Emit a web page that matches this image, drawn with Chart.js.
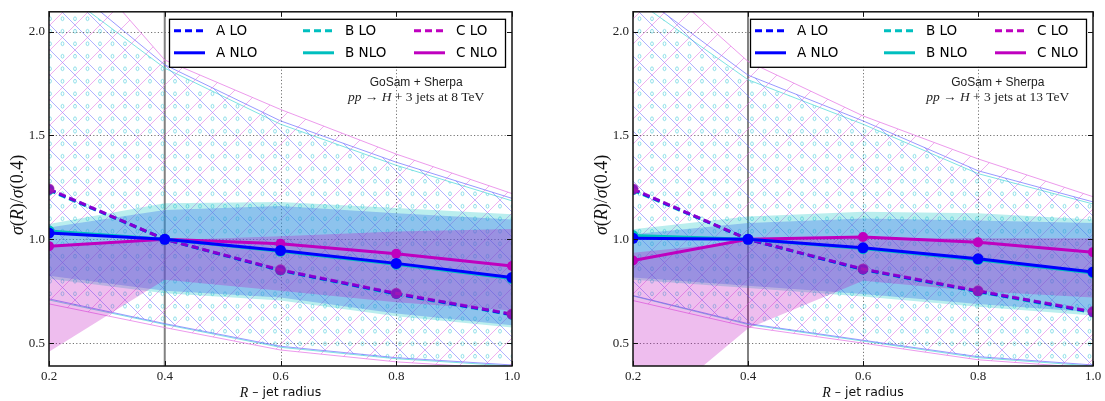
<!DOCTYPE html>
<html>
<head>
<meta charset="utf-8">
<script src="https://cdn.jsdelivr.net/npm/chart.js@4.4.0/dist/chart.umd.min.js"></script>
<style>
  html, body { margin: 0; padding: 0; background: #fff; }
  #wrap { position: relative; width: 1105px; height: 401px; overflow: hidden; }
  canvas { position: absolute; top: 0; }
  #c8 { left: 0; }
  #c13 { left: 552px; }
</style>
</head>
<body>
<div id="wrap">
  <canvas id="c8" width="552" height="401"></canvas>
  <canvas id="c13" width="553" height="401"></canvas>
</div>
<script>
// jet radius values and axis ticks
var radius = [0.2, 0.4, 0.6, 0.8, 1.0];
var xTicks = [0.2, 0.4, 0.6, 0.8, 1.0];
var yTicks = [0.5, 1.0, 1.5, 2.0];
var refRadius = 0.4;
var series = ['A', 'B', 'C'];
var orders = ['LO', 'NLO'];

// 8 TeV central values, sigma(R)/sigma(0.4)
var lo8A = [1.240, 1.0, 0.851, 0.738, 0.638];
var lo8B = [1.236, 1.0, 0.849, 0.735, 0.636];
var lo8C = [1.242, 1.0, 0.853, 0.740, 0.640];
var nlo8A = [1.030, 1.0, 0.946, 0.884, 0.816];
var nlo8B = [1.040, 1.0, 0.942, 0.880, 0.811];
var nlo8C = [0.967, 1.0, 0.978, 0.930, 0.871];
// 8 TeV scale bands
var loUp8A = [2.30, 1.840, 1.570, 1.371, 1.197];
var loDn8A = [0.713, 0.594, 0.485, 0.430, 0.395];
var loUp8B = [2.24, 1.824, 1.554, 1.356, 1.185];
var loDn8B = [0.708, 0.590, 0.480, 0.425, 0.390];
var loUp8C = [2.50, 1.863, 1.625, 1.410, 1.220];
var loDn8C = [0.689, 0.575, 0.467, 0.410, 0.375];
var nloUp8A = [1.057, 1.141, 1.160, 1.125, 1.095];
var nloDn8A = [0.824, 0.752, 0.720, 0.643, 0.586];
var nloUp8B = [1.073, 1.173, 1.180, 1.150, 1.120];
var nloDn8B = [0.810, 0.740, 0.705, 0.630, 0.575];
var nloUp8C = [0.967, 0.995, 1.014, 1.037, 1.050];
var nloDn8C = [0.459, 0.805, 0.752, 0.697, 0.657];

// 13 TeV central values
var lo13A = [1.240, 1.0, 0.855, 0.750, 0.650];
var lo13B = [1.236, 1.0, 0.853, 0.747, 0.647];
var lo13C = [1.242, 1.0, 0.857, 0.752, 0.652];
var nlo13A = [1.005, 1.0, 0.959, 0.906, 0.843];
var nlo13B = [1.018, 1.0, 0.955, 0.902, 0.838];
var nlo13C = [0.898, 1.0, 1.011, 0.986, 0.938];
// 13 TeV scale bands
var loUp13A = [2.20, 1.790, 1.570, 1.330, 1.180];
var loDn13A = [0.729, 0.594, 0.514, 0.435, 0.395];
var loUp13B = [2.16, 1.768, 1.554, 1.316, 1.170];
var loDn13B = [0.727, 0.590, 0.510, 0.430, 0.390];
var loUp13C = [2.35, 1.856, 1.594, 1.387, 1.205];
var loDn13C = [0.705, 0.578, 0.500, 0.420, 0.380];
var nloUp13A = [1.024, 1.078, 1.100, 1.090, 1.078];
var nloDn13A = [0.816, 0.776, 0.737, 0.689, 0.649];
var nloUp13B = [1.048, 1.110, 1.133, 1.125, 1.095];
var nloDn13B = [0.805, 0.765, 0.725, 0.675, 0.633];
var nloUp13C = [0.935, 0.990, 1.006, 1.005, 1.005];
var nloDn13C = [0.110, 0.570, 0.800, 0.750, 0.720];

var lineColors = ['#0000ff', '#00bfbf', '#bf00bf'];
var nloBandColors = {A: 'rgba(60,120,235,0.36)', B: 'rgba(0,191,191,0.27)', C: 'rgba(191,0,191,0.26)'};
var loEdgeColors = ['rgba(110,110,255,0.7)', 'rgba(70,215,215,0.7)', 'rgba(230,120,230,0.75)'];

function makePattern(kind) {
  var s = 25;
  var c = document.createElement('canvas');
  c.width = s; c.height = s;
  var g = c.getContext('2d');
  g.lineWidth = 1;
  if (kind === 'dots') {
    // small rings placed between the hatch lines
    g.strokeStyle = 'rgba(80,205,220,0.6)';
    [[0, 6.25], [12.5, 6.25], [0, 18.75], [12.5, 18.75], [25, 6.25], [25, 18.75]].forEach(function (p) {
      g.beginPath(); g.ellipse(p[0], p[1], 1.4, 1.9, 0, 0, 2 * Math.PI); g.stroke();
    });
  } else {
    g.strokeStyle = kind === 'back' ? 'rgba(100,100,255,0.5)' : 'rgba(225,110,225,0.55)';
    for (var k = -1; k <= 1; k++) {
      g.beginPath();
      if (kind === 'back') { g.moveTo(k * s, 0); g.lineTo(k * s + s, s); }
      else { g.moveTo(k * s, s); g.lineTo(k * s + s, 0); }
      g.stroke();
    }
  }
  return g.createPattern(c, 'repeat');
}
// A LO: "\" hatch, B LO: small circles, C LO: "/" hatch
var loPatterns = [makePattern('back'), makePattern('dots'), makePattern('fwd')];

function pts(ys) {
  return radius.map(function (r, i) { return {x: r, y: ys[i]}; });
}

function buildDatasets(p) {
  var ds = [];
  function band(up, dn, fillStyle, edge, ord) {
    var low = ds.length + 1;
    var ec = edge || 'rgba(0,0,0,0)';
    ds.push({data: pts(up), borderColor: ec, borderWidth: 1, pointRadius: 0, backgroundColor: fillStyle,
      fill: {target: low, above: fillStyle, below: fillStyle}, order: ord});
    ds.push({data: pts(dn), borderColor: ec, borderWidth: 1, pointRadius: 0, fill: false, order: ord});
  }
  function line(ys, color, dash, ptColor, ptR, ord) {
    ds.push({data: pts(ys), borderColor: color, borderWidth: 3, borderDash: dash, pointRadius: ptR,
      pointBackgroundColor: ptColor, pointBorderColor: ptColor, pointBorderWidth: 0, fill: false, order: ord});
  }
  // LO hatched bands: B circles, A "\", C "/"
  [1, 0, 2].forEach(function (i, k) {
    band(p.loUp[i], p.loDn[i], loPatterns[i], loEdgeColors[i], 40 - k);
  });
  // NLO solid bands
  [1, 0, 2].forEach(function (i, k) {
    band(p.nloUp[i], p.nloDn[i], nloBandColors[series[i]], null, 30 - k);
  });
  // LO dashed lines
  line(p.lo[1], lineColors[1], [7, 4], lineColors[1], 5, 22);
  line(p.lo[0], lineColors[0], [7, 4], lineColors[0], 5, 21);
  line(p.lo[2], 'rgba(191,0,191,0.7)', [7, 4], 'rgba(165,30,175,0.8)', 5.5, 20);
  // NLO solid lines
  line(p.nlo[2], lineColors[2], [], lineColors[2], 5, 12);
  line(p.nlo[1], lineColors[1], [], lineColors[1], 5.5, 11);
  line(p.nlo[0], lineColors[0], [], lineColors[0], 5.5, 10);
  return ds;
}

function drawParts(ctx, parts, x, y) {
  var total = 0;
  parts.forEach(function (q) { ctx.font = q[1]; total += ctx.measureText(q[0]).width; });
  var cx = x - total / 2;
  ctx.textAlign = 'left';
  ctx.textBaseline = 'middle';
  parts.forEach(function (q) { ctx.font = q[1]; ctx.fillText(q[0], cx, y); cx += ctx.measureText(q[0]).width; });
}

var serif = '"Liberation Serif", serif';
var sans = '"DejaVu Sans", sans-serif';

var decor = {
  id: 'decor',
  beforeDatasetsDraw: function (chart) {
    var ctx = chart.ctx, a = chart.chartArea, xs = chart.scales.x, ys = chart.scales.y;
    ctx.save();
    ctx.strokeStyle = 'rgba(100,100,100,0.9)';
    ctx.lineWidth = 1;
    ctx.setLineDash([1.2, 2.2]);
    yTicks.forEach(function (v) {
      var y = Math.round(ys.getPixelForValue(v)) + 0.5;
      ctx.beginPath(); ctx.moveTo(a.left, y); ctx.lineTo(a.right, y); ctx.stroke();
    });
    xTicks.forEach(function (v) {
      if (v === refRadius || v === xTicks[0] || v === xTicks[xTicks.length - 1]) return;
      var x = Math.round(xs.getPixelForValue(v)) + 0.5;
      ctx.beginPath(); ctx.moveTo(x, a.top); ctx.lineTo(x, a.bottom); ctx.stroke();
    });
    ctx.setLineDash([]);
    ctx.strokeStyle = 'rgba(115,115,115,0.9)';
    ctx.lineWidth = 2;
    var xr = xs.getPixelForValue(refRadius);
    ctx.beginPath(); ctx.moveTo(xr, a.top); ctx.lineTo(xr, a.bottom); ctx.stroke();
    ctx.restore();
  },
  afterDraw: function (chart, args, o) {
    var ctx = chart.ctx, a = chart.chartArea, xs = chart.scales.x, ys = chart.scales.y;
    ctx.save();
    // frame
    ctx.strokeStyle = '#111';
    ctx.lineWidth = 1.5;
    ctx.strokeRect(a.left, a.top, a.right - a.left, a.bottom - a.top);
    // inward ticks
    ctx.lineWidth = 1;
    xTicks.forEach(function (v) {
      var x = Math.round(xs.getPixelForValue(v)) + 0.5;
      ctx.beginPath(); ctx.moveTo(x, a.bottom); ctx.lineTo(x, a.bottom - 5);
      ctx.moveTo(x, a.top); ctx.lineTo(x, a.top + 5); ctx.stroke();
    });
    yTicks.forEach(function (v) {
      var y = Math.round(ys.getPixelForValue(v)) + 0.5;
      ctx.beginPath(); ctx.moveTo(a.left, y); ctx.lineTo(a.left + 5, y);
      ctx.moveTo(a.right, y); ctx.lineTo(a.right - 5, y); ctx.stroke();
    });

    // legend box
    var bw = 336, bh = 48;
    var bx = a.right - 7 - bw, by = a.top + 7;
    ctx.fillStyle = '#fff';
    ctx.fillRect(bx, by, bw, bh);
    ctx.strokeStyle = '#000';
    ctx.lineWidth = 1.3;
    ctx.strokeRect(bx + 0.5, by + 0.5, bw, bh);
    var colX = [5, 134, 245], rowY = [12, 34];
    orders.forEach(function (ord, r) {
      series.forEach(function (name, c) {
        var x0 = bx + colX[c], y0 = by + rowY[r];
        ctx.strokeStyle = lineColors[c];
        ctx.lineWidth = 3;
        ctx.setLineDash(ord === 'LO' ? [7, 4] : []);
        ctx.beginPath(); ctx.moveTo(x0, y0); ctx.lineTo(x0 + 31, y0); ctx.stroke();
        ctx.setLineDash([]);
        ctx.fillStyle = '#000';
        ctx.font = '13.5px ' + sans;
        ctx.textAlign = 'left';
        ctx.textBaseline = 'middle';
        ctx.fillText(name + ' ' + ord, x0 + 42, y0 + 1);
      });
    });

    // process label
    ctx.fillStyle = '#222';
    var cx = a.left + 0.793 * (a.right - a.left);
    drawParts(ctx, [['GoSam + Sherpa', '12px "Liberation Sans", sans-serif']], cx, a.top + 71);
    drawParts(ctx, [['pp', 'italic 13.5px ' + serif], [' \u2192 ', '13.5px ' + serif], ['H', 'italic 13.5px ' + serif],
      [' + 3 jets at ' + o.energy + ' TeV', '13.5px ' + serif]], cx, a.top + 86);

    // axis titles
    ctx.fillStyle = '#111';
    drawParts(ctx, [['R', 'italic 14px ' + serif], [' \u2013 jet radius', '12.5px ' + sans]],
      (a.left + a.right) / 2, a.bottom + 27);
    ctx.translate(a.left - 31, (a.top + a.bottom) / 2 + 6);
    ctx.rotate(-Math.PI / 2);
    drawParts(ctx, [['\u03c3', 'italic 18px ' + serif], ['(', '18px ' + serif], ['R', 'italic 18px ' + serif],
      [')/', '18px ' + serif], ['\u03c3', 'italic 18px ' + serif], ['(0.4)', '18px ' + serif]], 0, 0);
    ctx.restore();
  }
};

function makeChart(id, p, pad) {
  return new Chart(document.getElementById(id), {
    type: 'line',
    data: {datasets: buildDatasets(p)},
    options: {
      responsive: false,
      animation: false,
      devicePixelRatio: 1,
      layout: {padding: pad},
      scales: {
        x: {
          type: 'linear', min: xTicks[0], max: xTicks[xTicks.length - 1],
          afterBuildTicks: function (s) { s.ticks = xTicks.map(function (v) { return {value: v}; }); },
          afterFit: function (s) { s.height = 35; },
          grid: {display: false, drawTicks: false},
          border: {display: false},
          ticks: {color: '#222', padding: 3, maxRotation: 0, autoSkip: false, font: {family: serif, size: 13},
            callback: function (v) { return v.toFixed(1); }}
        },
        y: {
          type: 'linear', min: 0.39, max: 2.095,
          afterBuildTicks: function (s) { s.ticks = yTicks.map(function (v) { return {value: v}; }); },
          afterFit: function (s) { s.width = 49; },
          grid: {display: false, drawTicks: false},
          border: {display: false},
          ticks: {color: '#222', padding: 4, font: {family: serif, size: 13},
            callback: function (v) { return v.toFixed(1); }}
        }
      },
      plugins: {legend: {display: false}, tooltip: {enabled: false}, decor: {energy: p.energy}}
    },
    plugins: [decor]
  });
}

var panel8 = {energy: '8', lo: [lo8A, lo8B, lo8C], nlo: [nlo8A, nlo8B, nlo8C],
  loUp: [loUp8A, loUp8B, loUp8C], loDn: [loDn8A, loDn8B, loDn8C],
  nloUp: [nloUp8A, nloUp8B, nloUp8C], nloDn: [nloDn8A, nloDn8B, nloDn8C]};
var panel13 = {energy: '13', lo: [lo13A, lo13B, lo13C], nlo: [nlo13A, nlo13B, nlo13C],
  loUp: [loUp13A, loUp13B, loUp13C], loDn: [loDn13A, loDn13B, loDn13C],
  nloUp: [nloUp13A, nloUp13B, nloUp13C], nloDn: [nloDn13A, nloDn13B, nloDn13C]};

makeChart('c8', panel8, {left: 0, right: 40, top: 8, bottom: 0});
makeChart('c13', panel13, {left: 32, right: 12, top: 8, bottom: 0});
</script>
</body>
</html>
